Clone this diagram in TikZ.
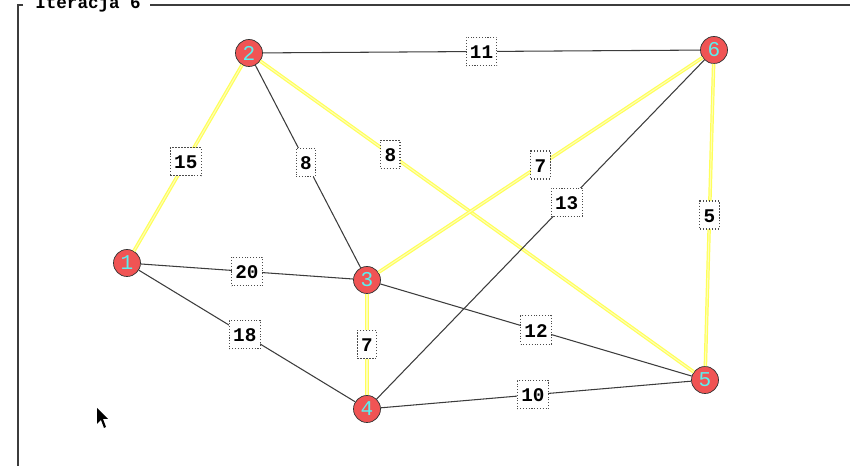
\documentclass[tikz,border=0pt]{standalone}
\usepackage{fontspec}
\setmonofont{Liberation Mono}
\usepackage{tikz}
\definecolor{vred}{RGB}{240,84,84}
\definecolor{vcyan}{RGB}{90,240,240}
\definecolor{eyellow}{RGB}{255,255,90}
\definecolor{egray}{RGB}{60,60,60}

\begin{document}
\begin{tikzpicture}[x=0.02cm,y=-0.02cm,
  vertex/.style={circle,draw=black!80,fill=vred,text=vcyan,minimum size=0.54cm,inner sep=0pt,font=\ttfamily\fontsize{12}{12}\selectfont},
  plain/.style={draw=egray,line width=0.6pt},
  tree/.style={draw=eyellow,double=eyellow!45,double distance=0.6pt,line width=0.7pt},
  weight/.style={draw=black!70,densely dotted,fill=white,inner xsep=2.2pt,inner ysep=4pt,text height=8pt,text depth=0pt,font=\ttfamily\bfseries\fontsize{11}{11}\selectfont}]
\useasboundingbox (0,0) rectangle (850,469);
\draw[egray,line width=0.9pt] (23,5) -- (18,5) -- (18,466);
\draw[egray,line width=0.9pt] (150,5) -- (850,5);
\node[anchor=base west,inner sep=0pt,font=\ttfamily\bfseries\fontsize{10}{10}\selectfont] (title) at (35,9) {Iteracja 6};

\node[vertex] (v1) at (127,263) {1};
\node[vertex] (v2) at (249,53) {2};
\node[vertex] (v3) at (367,280) {3};
\node[vertex] (v4) at (367,409) {4};
\node[vertex] (v5) at (705,380) {5};
\node[vertex] (v6) at (714,50) {6};

\draw[tree] (v1) -- node[weight,pos=0.48] (w12) {15} (v2);
\draw[plain] (v1) -- node[weight] (w13) {20} (v3);
\draw[plain] (v1) -- node[weight,pos=0.49] (w14) {18} (v4);
\draw[plain] (v2) -- node[weight] (w26) {11} (v6);
\draw[plain] (v2) -- node[weight,pos=0.48] (w23) {8} (v3);
\draw[tree] (v2) -- node[weight,pos=0.3] (w25) {8} (v5);
\draw[tree] (v3) -- node[weight] (w36) {7} (v6);
\draw[plain] (v4) -- node[weight,pos=0.58] (w46) {13} (v6);
\draw[tree] (v6) -- node[weight] (w65) {5} (v5);
\draw[tree] (v3) -- node[weight] (w34) {7} (v4);
\draw[plain] (v3) -- node[weight] (w35) {12} (v5);
\draw[plain] (v4) -- node[weight,pos=0.49] (w45) {10} (v5);

\fill[black] (97,408) -- (97,424) -- (101,420) -- (104,428) -- (106,427) -- (103,419) -- (108,419) -- cycle;
\end{tikzpicture}
\end{document}
